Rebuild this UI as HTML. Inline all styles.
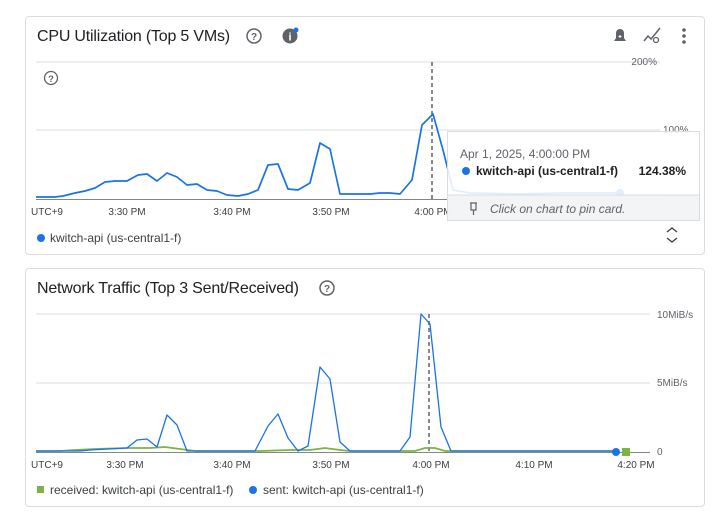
<!DOCTYPE html>
<html><head><style>
body{margin:0;width:717px;height:518px;background:#fff;font-family:"Liberation Sans",sans-serif;position:relative;overflow:hidden}
.card{position:absolute;border:1px solid #dadce0;border-radius:4px;background:#fff}
</style></head><body>
<div class="card" style="left:25px;top:16px;width:678px;height:237px"></div>
<div class="card" style="left:25px;top:268px;width:678px;height:237px"></div>
<svg width="717" height="518" style="position:absolute;left:0;top:0" font-family="Liberation Sans, sans-serif">
<text x="37" y="41" font-size="16" letter-spacing="-0.2" fill="#202124">CPU Utilization (Top 5 VMs)</text>
<circle cx="254" cy="36" r="7" fill="none" stroke="#5f6368" stroke-width="1.5"/><text x="254" y="40" font-size="10" text-anchor="middle" fill="#5f6368" font-weight="bold">?</text>
<circle cx="290" cy="36" r="7.5" fill="#5f6368"/><text x="290" y="40.5" font-size="11" text-anchor="middle" fill="#fff" font-weight="bold">i</text><circle cx="296" cy="30" r="2.5" fill="#1a73e8"/>
<path d="M614 41h12l-2-3v-5a4 4 0 0 0-8 0v5z" fill="#5f6368"/><rect x="618.5" y="36" width="3" height="1" fill="#fff"/><rect x="619.5" y="35" width="1" height="3" fill="#fff"/>
<polyline points="644,41 648,36 651,39 656,33 660,28" fill="none" stroke="#5f6368" stroke-width="1.5"/><circle cx="656" cy="40" r="2.5" fill="none" stroke="#5f6368" stroke-width="1.3"/>
<circle cx="684" cy="30" r="1.8" fill="#5f6368"/><circle cx="684" cy="36" r="1.8" fill="#5f6368"/><circle cx="684" cy="42" r="1.8" fill="#5f6368"/>
<circle cx="51" cy="78" r="6.5" fill="none" stroke="#5f6368" stroke-width="1.3"/><text x="51" y="82" font-size="9.5" text-anchor="middle" fill="#5f6368" font-weight="bold">?</text>
<line x1="36" y1="62" x2="660" y2="62" stroke="#dadce0"/>
<line x1="36" y1="130" x2="660" y2="130" stroke="#dadce0"/>
<line x1="36" y1="199.5" x2="660" y2="199.5" stroke="#80868b"/>
<text x="657" y="65" font-size="10" fill="#5f6368" text-anchor="end">200%</text>
<text x="663" y="133" font-size="10" fill="#5f6368">100%</text>
<g font-size="10" fill="#3c4043" text-anchor="middle">
<text x="47" y="215">UTC+9</text><text x="127" y="215">3:30 PM</text><text x="232" y="215">3:40 PM</text><text x="331" y="215">3:50 PM</text><text x="433" y="215">4:00 PM</text><text x="535" y="215">4:10 PM</text><text x="637" y="215">4:20 PM</text></g>
<line x1="432" y1="62" x2="432" y2="199" stroke="#5f6368" stroke-width="1.5" stroke-dasharray="4,3"/>
<polyline fill="none" stroke="#1a73e8" stroke-width="1.7" stroke-linejoin="round" points="36,197 55,197 63,196 75,193 85,191 95,188 105,182 115,181 127,181 138,175 147,174 157,181 167,173 177,177 187,185 197,184 207,190 217,191 227,195 238,196 248,194 258,190 268,165 278,164 288,189 298,190 310,183 320,143 330,149 340,194 350,194 360,194 370,194 380,193 390,193 400,194 412,180 422,125 433,114 443,150 453,190 470,193 520,194 560,193 620,193"/>
<circle cx="620" cy="193" r="4" fill="#1a73e8"/>
<circle cx="41" cy="238" r="4" fill="#1a73e8"/>
<text x="50" y="242" font-size="12" fill="#3c4043">kwitch-api (us-central1-f)</text>
<polyline points="667,232 672,228 677,232" fill="none" stroke="#3c4043" stroke-width="1.3"/><polyline points="667,238 672,242 677,238" fill="none" stroke="#3c4043" stroke-width="1.3"/>
<rect x="447.5" y="131.5" width="252" height="89" fill="#fff" fill-opacity="0.88" stroke="#dadce0"/>
<rect x="448" y="195" width="251" height="25" fill="#f1f3f4" fill-opacity="0.9"/>
<line x1="448" y1="195" x2="699" y2="195" stroke="#dadce0"/>
<text x="460" y="158" font-size="12" fill="#5f6368">Apr 1, 2025, 4:00:00 PM</text>
<circle cx="466" cy="171" r="4" fill="#1a73e8"/>
<text x="476" y="175" font-size="12" fill="#202124" font-weight="bold">kwitch-api (us-central1-f)</text>
<text x="686" y="175" font-size="12" fill="#202124" font-weight="bold" text-anchor="end">124.38%</text>
<path d="M470 203h7M471 203v7h5v-7M473.5 210v5" fill="none" stroke="#5f6368" stroke-width="1.2"/>
<text x="490" y="213" font-size="12" fill="#5f6368" font-style="italic">Click on chart to pin card.</text>
<text x="37" y="293" font-size="16" letter-spacing="-0.2" fill="#202124">Network Traffic (Top 3 Sent/Received)</text>
<circle cx="327" cy="288" r="7" fill="none" stroke="#5f6368" stroke-width="1.5"/><text x="327" y="292" font-size="10" text-anchor="middle" fill="#5f6368" font-weight="bold">?</text>
<line x1="36" y1="314" x2="650" y2="314" stroke="#dadce0"/>
<line x1="36" y1="383" x2="650" y2="383" stroke="#dadce0"/>
<line x1="36" y1="452.5" x2="650" y2="452.5" stroke="#80868b"/>
<text x="657" y="318" font-size="10" fill="#5f6368">10MiB/s</text>
<text x="657" y="386" font-size="10" fill="#5f6368">5MiB/s</text>
<text x="657" y="455" font-size="10" fill="#5f6368">0</text>
<g font-size="10" fill="#3c4043" text-anchor="middle">
<text x="47" y="468">UTC+9</text><text x="125" y="468">3:30 PM</text><text x="232" y="468">3:40 PM</text><text x="331" y="468">3:50 PM</text><text x="431" y="468">4:00 PM</text><text x="534" y="468">4:10 PM</text><text x="636" y="468">4:20 PM</text></g>
<line x1="429" y1="314" x2="429" y2="452" stroke="#5f6368" stroke-width="1.5" stroke-dasharray="4,3"/>
<polyline fill="none" stroke="#7cb342" stroke-width="1.7" points="36,451 60,451 75,450 95,449 127,448 150,448 165,447 180,449 195,451 260,451 290,450 310,450 325,448 340,450 350,451 415,451 425,448 435,448 445,451 616,451"/>
<polyline fill="none" stroke="#1a73e8" stroke-width="1.3" stroke-linejoin="round" points="36,451 80,451 90,450 127,448 137,440 147,439 157,447 167,415 177,425 187,451 255,451 268,426 278,414 288,438 298,451 308,446 320,367 330,379 340,442 350,451 400,451 410,437 421,314 430,324 441,427 451,451 616,451"/>
<circle cx="616" cy="452" r="4" fill="#1a73e8"/>
<rect x="622" y="448" width="8" height="8" fill="#7cb342"/>
<rect x="37" y="486" width="7" height="7" fill="#7cb342"/>
<text x="50" y="494" font-size="12" fill="#3c4043">received: kwitch-api (us-central1-f)</text>
<circle cx="253" cy="490" r="4" fill="#1a73e8"/>
<text x="263" y="494" font-size="12" fill="#3c4043">sent: kwitch-api (us-central1-f)</text>
</svg>
</body></html>
